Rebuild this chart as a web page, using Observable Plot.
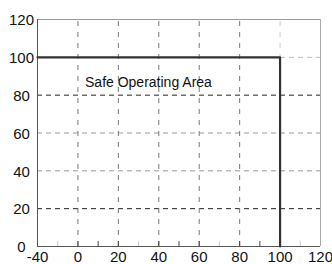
<!DOCTYPE html>
<html>
<head>
<meta charset="utf-8">
<script src="https://cdn.jsdelivr.net/npm/d3@7"></script>
<script src="https://cdn.jsdelivr.net/npm/@observablehq/plot@0.6"></script>
<style>
  html, body { margin: 0; padding: 0; background: #fff; }
</style>
</head>
<body>
<div id="chart"></div>
<script>
// Tick labels
const xTicks = [-40, 0, 20, 40, 60, 80, 100, 120];
const yTicks = [0, 20, 40, 60, 80, 100, 120];
// Grid positions
const xGrid = [0, 20, 40, 60, 80, 100];
const yGrid = [20, 40, 60, 80, 100];
// Minor ticks on the bottom axis
const xMinor = [-20, 10, 30, 50, 70, 90, 110];
// Safe operating area boundary
const soaX = [-40, 100, 100];
const soaY = [100, 100, 0];
// Annotation
const areaLabel = "Safe Operating Area";
const labelX = 3.5;
const labelY = 86.5;

const soa = soaX.map((x, i) => ({x, y: soaY[i]}));
const darkY = new Set([20, 80]);
const faintMinor = new Set([-20, 30, 70, 110]);

// The original axis compresses the negative side: -40..0 spans one grid step.
const xScale = d3.scaleLinear().domain([-40, 0, 120]).range([-20, 0, 120]);

const chart = Plot.plot({
  width: 332,
  height: 264,
  marginLeft: 37,
  marginRight: 12,
  marginTop: 19,
  marginBottom: 18,
  style: {fontFamily: "'Liberation Sans', Arial, sans-serif", fontSize: "14px", color: "#111", background: "#fff"},
  x: {domain: [-20, 120], transform: xScale},
  y: {domain: [0, 120]},
  marks: [
    Plot.ruleY(yGrid, {x1: -40, x2: 120, stroke: d => d === 100 ? "#bbb" : darkY.has(d) ? "#222" : "#999", strokeDasharray: "5,4", strokeWidth: 1}),
    Plot.ruleX(xGrid, {x: d => d, y1: 0, y2: 120, stroke: d => d === 100 ? "#ccc" : "#777", strokeDasharray: "5,6", strokeWidth: 1}),
    Plot.ruleY([120], {stroke: "#999"}),
    Plot.ruleX([120], {stroke: "#aaa"}),
    Plot.ruleX(xMinor, {x: d => d, y1: 0, y2: 2.6, stroke: d => faintMinor.has(d) ? "#ccc" : "#444"}),
    Plot.ruleX(xGrid, {x: d => d, y1: 0, y2: 2.6, stroke: "#444"}),
    Plot.ruleX([-40], {stroke: "#555"}),
    Plot.ruleY([0], {stroke: "#555"}),
    Plot.line(soa, {x: "x", y: "y", stroke: "#333", strokeWidth: 2.2}),
    Plot.text([areaLabel], {x: labelX, y: labelY, text: d => d, textAnchor: "start", fontSize: 14, fill: "#111"}),
    Plot.axisX(xTicks, {x: d => d, text: d => String(d), tickSize: 0, tickPadding: 5, fontSize: 15, label: null}),
    Plot.axisY({ticks: yTicks, tickSize: 0, tickPadding: 16, textAnchor: "middle", dy: 1, fontSize: 15, label: null})
  ]
});
document.getElementById("chart").appendChild(chart);
</script>
</body>
</html>
